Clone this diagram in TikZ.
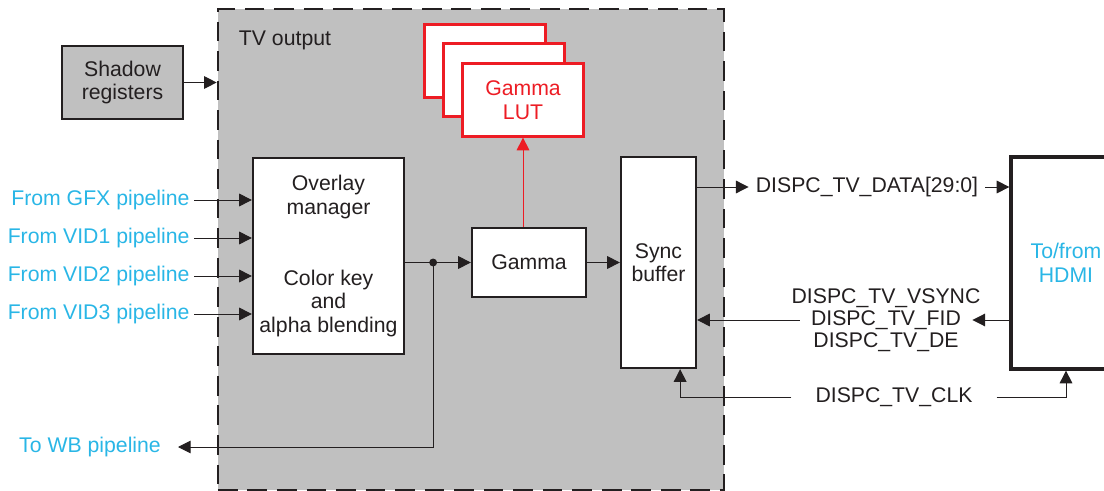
\documentclass[tikz,border=0pt]{standalone}
\usepackage{fontspec}
\setmainfont{Liberation Sans}
\usetikzlibrary{arrows.meta,calc}

\definecolor{tvgray}{RGB}{192,192,192}
\definecolor{ink}{RGB}{35,31,32}
\definecolor{pipeblue}{RGB}{41,182,230}
\definecolor{lutred}{RGB}{237,28,36}

\tikzset{
  blk/.style={draw=ink, line width=1.6pt, fill=white, inner sep=0pt, align=center, text=ink},
  lutblk/.style={blk, draw=lutred, text=lutred, minimum width=3.025cm, minimum height=1.825cm},
  conn/.style={draw=ink, line width=0.7pt},
  arr/.style={conn, -{Triangle[length=9pt,width=9pt]}},
  pipe/.style={text=pipeblue, anchor=east, inner sep=3pt},
  sig/.style={text=ink, align=center},
}

\begin{document}
\begin{tikzpicture}[x=0.025cm, y=-0.025cm, font=\fontsize{15.1}{16.7}\selectfont]
    \clip (0,0) rectangle (1104,491);

    % TV output frame
    \node[draw=ink, fill=tvgray, line width=1.8pt, dash pattern=on 14pt off 7pt,
          minimum width=12.65cm, minimum height=12.025cm, inner sep=0pt] (tv) at (471,249.5) {};
    \node[anchor=west, text=ink] (tvname) at (234,40) {TV output};

    % Shadow registers
    \node[blk, fill=tvgray, minimum width=3.025cm, minimum height=1.825cm] (shadow) at (122.5,82.5) {Shadow\\registers};
    \draw[arr] (shadow.east) -- (tv.west |- shadow.east);

    % Gamma LUT stack
    \node[lutblk] (lutc) at (485,61) {};
    \node[lutblk] (lutb) at (504,80) {};
    \node[lutblk] (luta) at (523,100) {Gamma\\LUT};

    % Blocks inside
    \node[blk, minimum width=3.775cm, minimum height=4.9cm] (ovl) at (328.5,256)
        {Overlay\\manager\\[1.19cm]Color key\\and\\alpha blending};
    \node[blk, minimum width=2.85cm, minimum height=1.725cm] (gamma) at (529,262.5) {Gamma};
    \node[blk, minimum width=1.875cm, minimum height=5.275cm] (sync) at (658.5,262.5) {Sync\\buffer};

    % HDMI
    \node[blk, line width=2.3pt, text=pipeblue, minimum width=2.75cm, minimum height=5.3cm] (hdmi) at (1066,263) {To/from\\HDMI};

    % Input pipelines
    \node[pipe] (gfx)  at (194,200) {From GFX pipeline};
    \node[pipe] (vid1) at (194,238) {From VID1 pipeline};
    \node[pipe] (vid2) at (194,276) {From VID2 pipeline};
    \node[pipe] (vid3) at (194,314) {From VID3 pipeline};
    \foreach \p in {gfx,vid1,vid2,vid3} {
        \draw[arr] (\p.east) -- (\p.east -| ovl.west);
    }

    % Overlay -> Gamma, split to WB
    \coordinate (split) at ($(gamma.west -| ovl.east)+(28,0)$);
    \node[pipe, inner xsep=12pt] (wb) at (178,447) {To WB pipeline};
    \draw[arr] (gamma.west -| ovl.east) -- (gamma.west);
    \fill[ink] (split) circle (2.8pt);
    \draw[arr] (split) |- (wb.east);

    % Gamma -> LUT and Sync
    \draw[conn, draw=lutred, -{Triangle[length=9pt,width=9pt]}] (luta.south |- gamma.north) -- (luta.south);
    \draw[arr] (gamma.east) -- (gamma.east -| sync.west);

    % Output signals
    \node[sig, inner xsep=5pt] (data) at (867,187) {DISPC\_TV\_DATA[29:0]};
    \draw[arr] (sync.east |- data.west) -- (data.west);
    \draw[arr] (data.east) -- (data.east -| hdmi.west);

    \node[sig, inner xsep=8pt] (fid) at (886,320) {DISPC\_TV\_FID};
    \node[sig, anchor=south] (vsync) at ($(fid.north)+(0,7)$) {DISPC\_TV\_VSYNC};
    \node[sig, anchor=north] (de) at ($(fid.south)+(0,-7)$) {DISPC\_TV\_DE};
    \draw[arr] (hdmi.west |- fid.east) -- (fid.east);
    \draw[arr] (fid.west) -- (fid.west -| sync.east);

    \node[sig, inner xsep=17pt] (clk) at (894,397) {DISPC\_TV\_CLK};
    \draw[arr] (clk.west) -| ($(sync.south east)+(-17,0)$);
    \draw[arr] (clk.east) -| (hdmi.south);
\end{tikzpicture}
\end{document}
